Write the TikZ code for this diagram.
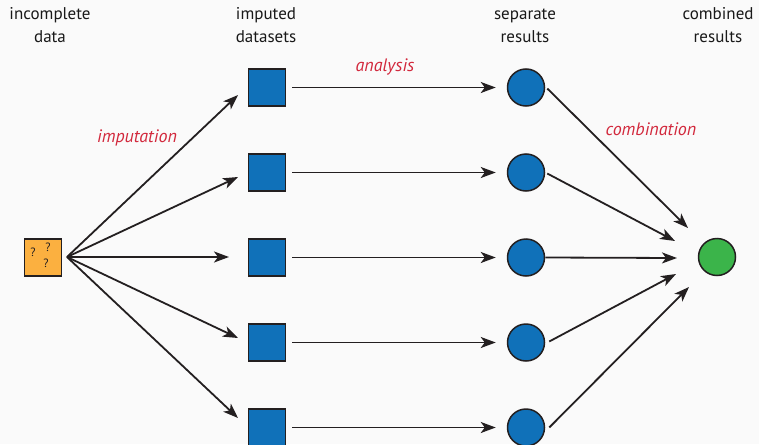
\documentclass[tikz,border=0pt]{standalone}
\usepackage{fontspec}
\setmainfont{PT Sans}
\usetikzlibrary{arrows.meta}
\definecolor{bgcol}{HTML}{FAFAFA}
\definecolor{edgecol}{HTML}{231F20}
\definecolor{orangefill}{HTML}{FBB040}
\definecolor{bluefill}{HTML}{1071B9}
\definecolor{greenfill}{HTML}{3BB44A}
\definecolor{labelred}{HTML}{D2283C}
\tikzset{
  sqnode/.style={draw=edgecol, line width=1.5pt, minimum size=37pt, inner sep=0pt},
  dataset/.style={sqnode, fill=bluefill},
  result/.style={circle, draw=edgecol, line width=1.5pt, minimum size=37pt, inner sep=0pt, fill=bluefill},
  final/.style={result, fill=greenfill},
  header/.style={align=center, font=\fontsize{17}{22}\selectfont, text=black!90},
  steplabel/.style={font=\fontsize{18}{20}\selectfont\itshape, text=labelred},
  qmark/.style={font=\fontsize{12}{12}\selectfont, text=edgecol, inner sep=0pt},
  flow/.style={draw=edgecol, line width=1.8pt, -{Stealth[length=15pt, width=11pt, inset=4pt]}}
}
\begin{document}
\begin{tikzpicture}[x=1pt, y=-1pt]
  \fill[bgcol] (0,0) rectangle (759,444);
  \useasboundingbox (0,0) rectangle (759,444);

  % column headings (anchored on the baseline of the second line)
  \node[header, anchor=base] (h1) at (50,42) {incomplete\\data};
  \node[header, anchor=base] (h2) at (266,42) {imputed\\datasets};
  \node[header, anchor=base] (h3) at (525,42) {separate\\results};
  \node[header, anchor=base] (h4) at (718,42) {combined\\results};

  % incomplete data
  \node[sqnode, fill=orangefill] (inc) at (43,257.5) {};
  \node[qmark] (q1) at (33,252) {?};
  \node[qmark] (q2) at (48,247) {?};
  \node[qmark] (q3) at (46,263) {?};
  \coordinate (fan) at (67,257);

  % imputed datasets and separate results
  \foreach \i/\y in {1/87.5, 2/172.5, 3/257.5, 4/342.5, 5/427.5} {
    \node[dataset] (d\i) at (267,\y) {};
    \node[result] (r\i) at (526,\y) {};
    \draw[flow] ([xshift=6pt]d\i.east) -- ([xshift=-11pt]r\i.west);
  }

  % pooled result
  \node[final] (comb) at (717,257) {};

  % imputation fan
  \coordinate (t1) at (238,95);
  \coordinate (t2) at (238,177);
  \coordinate (t3) at (229,257);
  \coordinate (t4) at (238,338);
  \coordinate (t5) at (238,418);
  \foreach \i in {1,...,5} \draw[flow] (fan) -- (t\i);

  % combination arrows
  \coordinate (c1) at (688,228);
  \coordinate (c2) at (675,241);
  \coordinate (c3) at (677,258);
  \coordinate (c4) at (676,274);
  \coordinate (c5) at (689,287);
  \draw[flow] ([shift={(2,1)}]r1.east) -- (c1);
  \draw[flow] ([shift={(2,1)}]r2.east) -- (c2);
  \draw[flow] (r3.east) -- (c3);
  \draw[flow] ([shift={(4,-1)}]r4.east) -- (c4);
  \draw[flow] ([shift={(4,0)}]r5.east) -- (c5);

  % step labels
  \node[steplabel] (limp) at (137,138) {imputation};
  \node[steplabel] (lana) at (385,67) {analysis};
  \node[steplabel] (lcom) at (651,129) {combination};
\end{tikzpicture}
\end{document}
